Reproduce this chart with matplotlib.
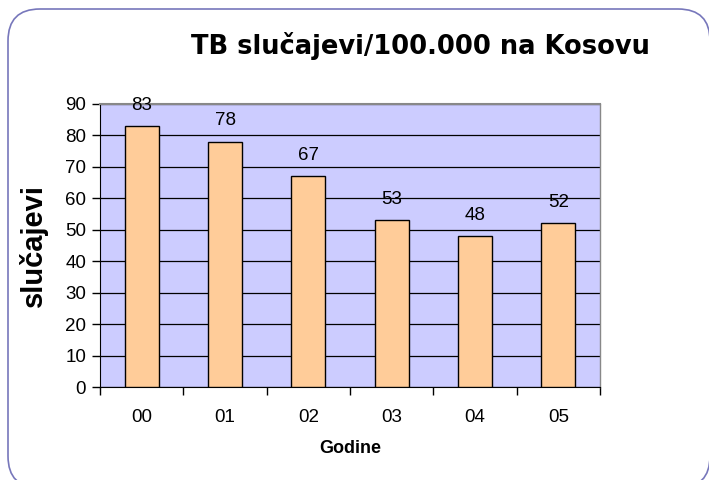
import matplotlib
matplotlib.use("Agg")
import matplotlib.pyplot as plt
from matplotlib.patches import FancyBboxPatch

categories = ["00", "01", "02", "03", "04", "05"]
values = [83, 78, 67, 53, 48, 52]
yticks = [0, 10, 20, 30, 40, 50, 60, 70, 80, 90]

fig = plt.figure(figsize=(7.09, 4.8), dpi=100)
fig.patch.set_facecolor("white")

# rounded border
border = FancyBboxPatch((8/709, -8/480), 702/709, 479/480,
                        boxstyle="round,pad=0,rounding_size=0.045",
                        transform=fig.transFigure, fill=False,
                        edgecolor="#7777bb", linewidth=1.2, mutation_aspect=709/480)
fig.patches.append(border)

ax = fig.add_axes([100/709, 1-387/480, 500/709, 283/480])
ax.set_facecolor("#CCCCFF")
x = list(range(len(categories)))
ax.bar(x, values, width=0.41, color="#FFCC99", edgecolor="black", linewidth=1.0, zorder=3)
ax.set_xlim(-0.5, len(categories) - 0.5)
ax.set_ylim(0, 90)
ax.set_yticks(yticks)
ax.yaxis.grid(True, color="black", linewidth=0.9, zorder=1)
ax.set_axisbelow(True)

ax.set_xticks(x)
ax.set_xticklabels(categories, fontname="Liberation Sans", fontsize=13.5)
ax.set_xticks([i + 0.5 for i in range(-1, len(categories))], minor=True)
ax.tick_params(axis="x", which="major", length=0, pad=16)
ax.tick_params(axis="x", which="minor", length=6, direction="out", width=1)
ax.tick_params(axis="y", length=6, direction="out", width=1, labelsize=13.5, pad=4)
for lab in ax.get_yticklabels():
    lab.set_fontname("Liberation Sans")

for s in ["top", "right"]:
    ax.spines[s].set_color("#888888")
ax.spines["top"].set_linewidth(1.5)
ax.spines["right"].set_linewidth(1.0)
ax.spines["left"].set_color("black")
ax.spines["bottom"].set_color("black")

for xi, v in zip(x, values):
    ax.annotate(str(v), (xi, v), xytext=(0, 15), textcoords="offset points",
                ha="center", va="center", fontsize=13.5, fontname="Liberation Sans", zorder=4)

ax.set_xlabel("Godine", fontname="Liberation Sans", fontweight="bold", fontsize=13, labelpad=10)
ax.set_ylabel("slučajevi", fontname="Liberation Sans", fontweight="bold", fontsize=21, labelpad=12)

fig.text(420/709, 1-46/480, "TB slučajevi/100.000 na Kosovu", ha="center", va="center",
         fontsize=18.5, fontweight="bold", family="DejaVu Sans")

fig.savefig("out.png", dpi=100)
